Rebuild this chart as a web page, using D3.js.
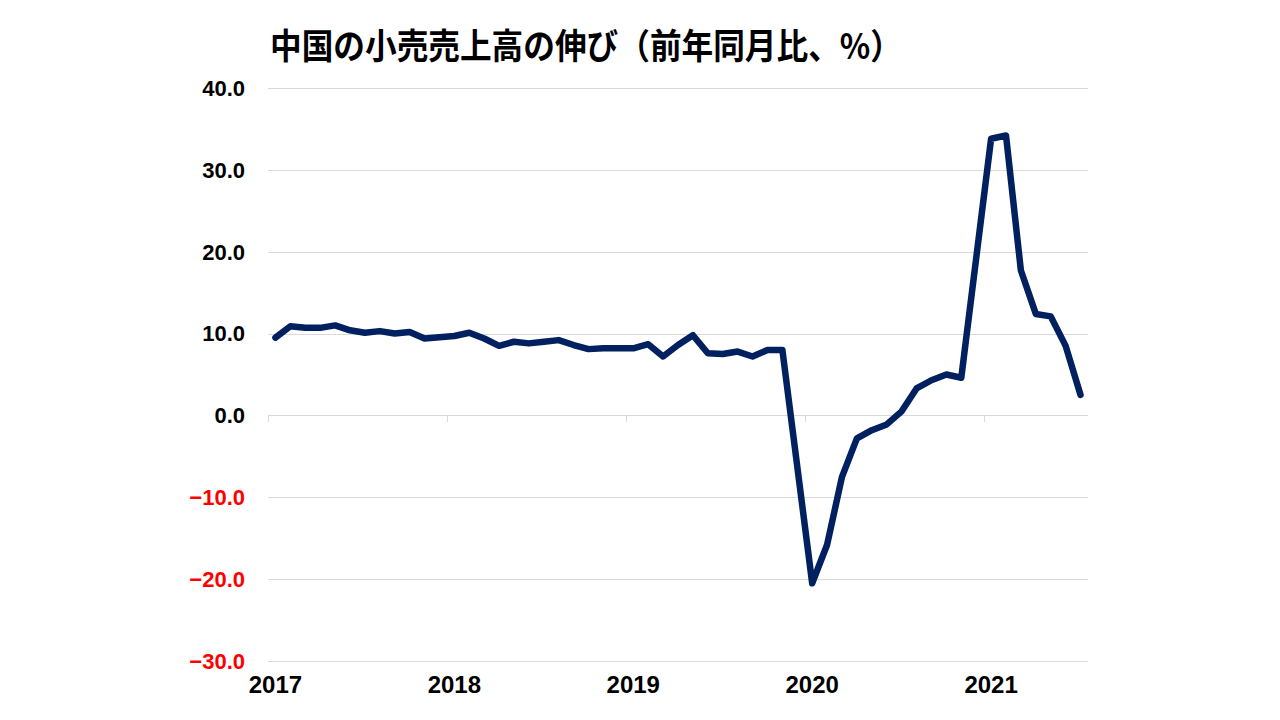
<!DOCTYPE html>
<html>
<head>
<meta charset="utf-8">
<script src="https://cdn.jsdelivr.net/npm/d3@7/dist/d3.min.js"></script>
<style>
  html, body { margin: 0; padding: 0; background: #fff; }
  svg { display: block; }
</style>
</head>
<body>
<svg id="chart" width="1280" height="720"></svg>
<script>
// ---- Data (year-on-year %, China retail sales) ----
// Each year has 12 category slots; Jan-Feb combined value sits in the first slot,
// the last slot of each year is empty (line is connected across it).
const years = ["2017", "2018", "2019", "2020", "2021"];
const values2017 = [9.5, 10.9, 10.7, 10.7, 11.0, 10.4, 10.1, 10.3, 10.0, 10.2, 9.4, null];
const values2018 = [9.7, 10.1, 9.4, 8.5, 9.0, 8.8, 9.0, 9.2, 8.6, 8.1, 8.2, null];
const values2019 = [8.2, 8.7, 7.2, 8.6, 9.8, 7.6, 7.5, 7.8, 7.2, 8.0, 8.0, null];
const values2020 = [-20.5, -15.8, -7.5, -2.8, -1.8, -1.1, 0.5, 3.3, 4.3, 5.0, 4.6, null];
const values2021 = [33.8, 34.2, 17.7, 12.4, 12.1, 8.5, 2.5];
const yTicks = [-30, -20, -10, 0, 10, 20, 30, 40];
const title = "中国の小売売上高の伸び（前年同月比、%）";

(function () {
  const seriesByYear = [values2017, values2018, values2019, values2020, values2021];
  const slots = [];
  seriesByYear.forEach((arr, yi) => {
    arr.forEach((v, k) => slots.push({ key: years[yi] + "-" + k, year: years[yi], k: k, value: v }));
  });

  const svg = d3.select("#chart");
  const pLeft = 268, pRight = 1088, pTop = 88, pBottom = 661;

  const x = d3.scaleBand().domain(slots.map(d => d.key)).range([pLeft, pRight]).padding(0);
  const y = d3.scaleLinear().domain([-30, 40]).range([pBottom, pTop]);
  const xc = key => x(key) + x.bandwidth() / 2;

  const font = "'Liberation Sans', Arial, sans-serif";

  // Gridlines
  svg.append("g").selectAll("line").data(yTicks).join("line")
    .attr("x1", pLeft).attr("x2", pRight)
    .attr("y1", d => Math.round(y(d)) + 0.5).attr("y2", d => Math.round(y(d)) + 0.5)
    .attr("stroke", "#d9d9d9").attr("stroke-width", 1);

  // X axis tick marks at the start of each year (below the zero line)
  const yearStarts = slots.filter(d => d.k === 0);
  svg.append("g").selectAll("line").data(yearStarts).join("line")
    .attr("x1", d => Math.round(x(d.key)) + 0.5).attr("x2", d => Math.round(x(d.key)) + 0.5)
    .attr("y1", Math.round(y(0))).attr("y2", Math.round(y(0)) + 7)
    .attr("stroke", "#d9d9d9").attr("stroke-width", 1);

  // Y labels
  svg.append("g").selectAll("text").data(yTicks).join("text")
    .attr("x", 245).attr("y", d => y(d))
    .attr("dy", "0.36em")
    .attr("text-anchor", "end")
    .attr("font-family", font).attr("font-weight", "bold").attr("font-size", 22)
    .attr("fill", d => d < 0 ? "#ff0000" : "#000000")
    .text(d => (d < 0 ? "\u2212" : "") + Math.abs(d).toFixed(1));

  // X labels (years)
  svg.append("g").selectAll("text").data(yearStarts).join("text")
    .attr("x", d => xc(d.key)).attr("y", 693)
    .attr("text-anchor", "middle")
    .attr("font-family", font).attr("font-weight", "bold").attr("font-size", 24)
    .attr("fill", "#000")
    .text(d => d.year);

  // Line
  const pts = slots.filter(d => d.value !== null);
  const line = d3.line().x(d => xc(d.key)).y(d => y(d.value));
  svg.append("path").datum(pts)
    .attr("d", line)
    .attr("fill", "none")
    .attr("stroke", "#002060")
    .attr("stroke-width", 6.5)
    .attr("stroke-linejoin", "round")
    .attr("stroke-linecap", "round");

  // Title
  svg.append("text")
    .attr("x", 270).attr("y", 59)
    .attr("font-family", "'Noto Sans CJK JP', 'Noto Sans CJK SC', sans-serif")
    .attr("font-weight", "bold").attr("font-size", 35)
    .attr("textLength", 632).attr("lengthAdjust", "spacingAndGlyphs")
    .attr("fill", "#000")
    .text(title);
})();
</script>
</body>
</html>
